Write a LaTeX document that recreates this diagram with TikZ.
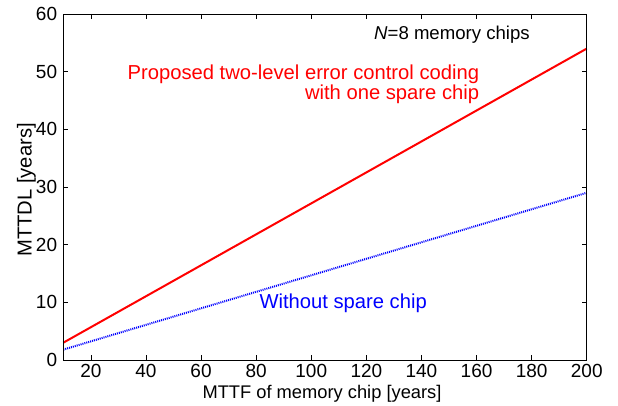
\documentclass[tikz,border=0pt]{standalone}
\usepackage{fontspec}
\setmainfont{Liberation Sans}
\begin{document}
\begin{tikzpicture}[x=1pt,y=1pt,
  lbl/.style={inner sep=0pt},
  ticklbl/.style={font=\fontsize{19}{21}\selectfont, inner sep=0pt},
  intext/.style={font=\fontsize{20.2}{22}\selectfont, inner sep=0pt},
  axisline/.style={line width=0.9pt, black},
  tickline/.style={line width=0.7pt, black}]
\useasboundingbox (0,0) rectangle (618,405);
\begin{scope}[x=2.755pt, y=5.767pt, shift={(35.75pt,45pt)}]
  % curves
  \draw[red, line width=2pt] (10,3) -- (200,54);
  \draw[blue, line width=2pt, dash pattern=on 1pt off 1pt] (10,1.8) -- (200,29);
  % axes box
  \draw[axisline] (10,0) rectangle (200,60);
  % x ticks
  \foreach \v in {20,40,...,200} {
    \draw[tickline] (\v,0) -- ++(0,5pt);
    \draw[tickline] (\v,60) -- ++(0,-5pt);
    \node[ticklbl, anchor=base] (xt\v) at ([yshift=-17pt]\v,0) {\v};
  }
  % y ticks
  \foreach \w in {0,10,...,60} {
    \draw[tickline] (10,\w) -- ++(5pt,0);
    \draw[tickline] (200,\w) -- ++(-5pt,0);
    \node[ticklbl, anchor=east] (yt\w) at ([xshift=-6pt]10,\w) {\w};
  }
\end{scope}
\node[lbl, font=\fontsize{18.6}{20}\selectfont, anchor=base west] (ntxt) at (374,365) {\textit{N}=8 memory chips};
\node[intext, anchor=base east, red] (prop1) at (479.3,325) {Proposed two-level error control coding};
\node[intext, anchor=base east, red] (prop2) at (479.3,305) {with one spare chip};
\node[intext, anchor=base west, blue] (wo) at (259.3,96.7) {Without spare chip};
\node[lbl, font=\fontsize{20.2}{22}\selectfont, rotate=90, anchor=base] (ylab) at (31.5,215) {MTTDL [years]};
\node[lbl, font=\fontsize{18.3}{20}\selectfont, anchor=base] (xlab) at (322,7) {MTTF of memory chip [years]};
\end{tikzpicture}
\end{document}
